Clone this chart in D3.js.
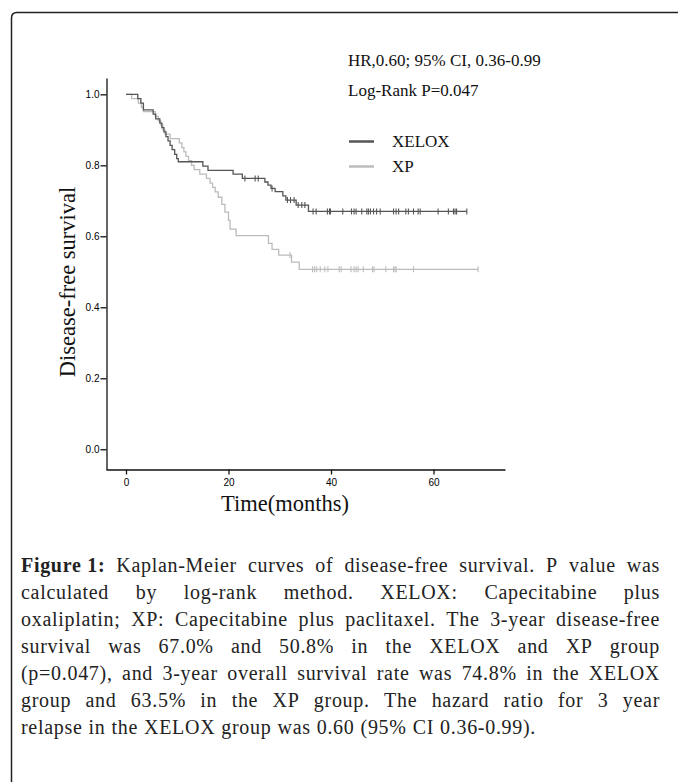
<!DOCTYPE html>
<html>
<head>
<meta charset="utf-8">
<script src="https://cdn.jsdelivr.net/npm/d3@7/dist/d3.min.js"></script>
<style>
  html, body { margin: 0; padding: 0; background: #fff; }
  svg { display: block; }
</style>
</head>
<body>
<svg id="chart" width="678" height="782"></svg>
<script>
// step data: [month, survival after the drop]
const xeloxSteps = [
	[2.3, 0.988], [2.9, 0.975], [3.4, 0.956], [5.3, 0.944], [5.8, 0.931],
	[6.6, 0.919], [7.0, 0.906], [7.4, 0.894], [7.8, 0.881], [8.2, 0.869],
	[8.6, 0.856], [9.0, 0.844], [9.5, 0.831], [9.9, 0.819], [10.2, 0.810],
	[15.0, 0.798], [16.0, 0.786], [20.9, 0.775], [22.7, 0.763], [27.1, 0.753],
	[27.7, 0.744], [28.3, 0.735], [29.1, 0.726], [30.6, 0.714], [31.2, 0.702],
	[33.2, 0.688], [35.6, 0.670]
];
const xeloxCensored = [
	23.2, 25.2, 25.8, 28.5, 31.5, 32.1, 32.8, 33.6, 34.3, 34.9, 36.5, 37.1,
	39.3, 39.7, 39.9, 42.3, 44.0, 44.5, 44.9, 46.0, 47.0, 47.3, 47.7, 48.3,
	48.9, 49.6, 52.2, 52.7, 53.2, 54.6, 55.1, 56.1, 57.0, 57.4, 60.9, 62.9,
	63.9, 64.2, 64.5, 66.5
];
const xpSteps = [
	[1.1, 0.988], [2.4, 0.975], [3.0, 0.963], [3.4, 0.951], [5.7, 0.938],
	[6.3, 0.925], [6.8, 0.913], [7.2, 0.900], [7.6, 0.888], [8.6, 0.875],
	[10.4, 0.863], [10.9, 0.850], [11.3, 0.838], [11.7, 0.825], [12.2, 0.813],
	[12.8, 0.800], [13.3, 0.788], [14.4, 0.775], [15.7, 0.763], [16.4, 0.750],
	[16.9, 0.738], [17.4, 0.725], [18.0, 0.710], [18.7, 0.690], [19.3, 0.668],
	[20.0, 0.645], [20.3, 0.620], [21.5, 0.602], [27.8, 0.580], [28.5, 0.563],
	[29.8, 0.547], [32.3, 0.527], [33.8, 0.507]
];
const xpCensored = [
	32.0, 36.4, 36.8, 37.2, 37.9, 38.8, 39.4, 41.6, 42.0, 43.9, 44.5, 44.9,
	45.3, 46.3, 48.1, 48.4, 50.7, 52.2, 52.5, 52.7, 56.1, 68.7
];
const xTicks = [0, 20, 40, 60];
const yTicks = [0, 0.2, 0.4, 0.6, 0.8, 1.0];
const groups = ["XELOX", "XP"];
const statLines = ["HR,0.60; 95% CI, 0.36-0.99", "Log-Rank P=0.047"];
const captionLines = [
	"Kaplan-Meier curves of disease-free survival. P value was",
	"calculated by log-rank method. XELOX: Capecitabine plus",
	"oxaliplatin; XP: Capecitabine plus paclitaxel. The 3-year disease-free",
	"survival was 67.0% and 50.8% in the XELOX and XP group",
	"(p=0.047), and 3-year overall survival rate was 74.8% in the XELOX",
	"group and 63.5% in the XP group. The hazard ratio for 3 year",
	"relapse in the XELOX group was 0.60 (95% CI 0.36-0.99)."
];

const svg = d3.select("#chart");
const serif = "'Liberation Serif', 'Times New Roman', serif";
const sans = "'Liberation Sans', Arial, sans-serif";

// frame around figure
svg.append("path")
	.attr("d", "M11.5,782 V18 Q11.5,12.5 17,12.5 H678")
	.attr("fill", "none")
	.attr("stroke", "#222")
	.attr("stroke-width", 1.5);

const x = d3.scaleLinear().domain([-3.9, 73.95]).range([106, 505]);
const y = d3.scaleLinear().domain([-0.057, 1.046]).range([469.5, 78]);

const xAxis = svg.append("g")
	.attr("transform", "translate(0,469.5)")
	.call(d3.axisBottom(x).tickValues(xTicks).tickSize(5).tickSizeOuter(0).tickPadding(4));
const yAxis = svg.append("g")
	.attr("transform", "translate(106.5,0)")
	.call(d3.axisLeft(y).tickValues(yTicks).tickSize(6).tickSizeOuter(0).tickPadding(1)
		.tickFormat(d3.format(".1f")));

[xAxis, yAxis].forEach(g => {
	g.selectAll("path, line").attr("stroke", "#111").attr("stroke-width", 1.3);
	g.selectAll("text").attr("font-family", sans).attr("font-size", 10).attr("fill", "#000");
});

// survival curves
const colors = { XELOX: "#555", XP: "#bcbcbc" };
const line = d3.line().x(d => x(d[0])).y(d => y(d[1])).curve(d3.curveStepAfter);

function survAt(steps, t) {
	let s = 1;
	steps.forEach(d => { if (d[0] <= t) s = d[1]; });
	return s;
}

function drawCurve(steps, censored, color) {
	const end = d3.max([d3.max(censored), d3.max(steps, d => d[0])]);
	const pts = [[0, 1]].concat(steps, [[end, steps[steps.length - 1][1]]]);
	svg.append("path")
		.attr("d", line(pts))
		.attr("fill", "none")
		.attr("stroke", color)
		.attr("stroke-width", 1.3);
	svg.append("g").selectAll("line")
		.data(censored)
		.enter().append("line")
		.attr("x1", d => x(d)).attr("x2", d => x(d))
		.attr("y1", d => y(survAt(steps, d)) - 3)
		.attr("y2", d => y(survAt(steps, d)) + 3)
		.attr("stroke", color)
		.attr("stroke-width", 1.1);
}

drawCurve(xpSteps, xpCensored, colors.XP);
drawCurve(xeloxSteps, xeloxCensored, colors.XELOX);

// stats text
svg.selectAll(".stat")
	.data(statLines)
	.enter().append("text")
	.attr("class", "stat")
	.attr("x", 348)
	.attr("y", (d, i) => 66 + i * 30)
	.attr("font-family", serif)
	.attr("font-size", 17)
	.attr("fill", "#111")
	.text(d => d);

// legend
const legend = svg.append("g").selectAll("g")
	.data(groups)
	.enter().append("g")
	.attr("transform", (d, i) => `translate(349,${141.5 + i * 25})`);
legend.append("line")
	.attr("x1", 0).attr("x2", 25)
	.attr("stroke", d => colors[d])
	.attr("stroke-width", 2.5);
legend.append("text")
	.attr("x", 43).attr("y", 5.5)
	.attr("font-family", serif)
	.attr("font-size", 17)
	.attr("fill", "#111")
	.text(d => d);

// axis titles
svg.append("text")
	.attr("transform", "translate(75,282) rotate(-90)")
	.attr("text-anchor", "middle")
	.attr("font-family", serif)
	.attr("font-size", 22.5)
	.attr("fill", "#111")
	.text("Disease-free survival");
svg.append("text")
	.attr("x", 285).attr("y", 511)
	.attr("text-anchor", "middle")
	.attr("font-family", serif)
	.attr("font-size", 22.5)
	.attr("fill", "#111")
	.text("Time(months)");

// caption, justified word by word
const capLeft = 21, capRight = 660, capTop = 572, capStep = 27;
captionLines.forEach((ln, i) => {
	const words = ln.split(" ");
	if (i === 0) words.unshift("Figure 1:");
	const g = svg.append("g");
	const texts = words.map((w, j) => g.append("text")
		.attr("y", capTop + i * capStep)
		.attr("font-family", serif)
		.attr("font-size", 20)
		.attr("letter-spacing", 0.7)
		.attr("font-weight", (i === 0 && j === 0) ? "bold" : "normal")
		.attr("fill", "#222")
		.text(w));
	const widths = texts.map(t => t.node().getComputedTextLength());
	const total = d3.sum(widths);
	const last = i === captionLines.length - 1;
	const gap = last ? 6 : (capRight - capLeft - total) / (words.length - 1);
	let cx = capLeft;
	texts.forEach((t, j) => {
		t.attr("x", cx);
		cx += widths[j] + gap;
	});
});
</script>
</body>
</html>
